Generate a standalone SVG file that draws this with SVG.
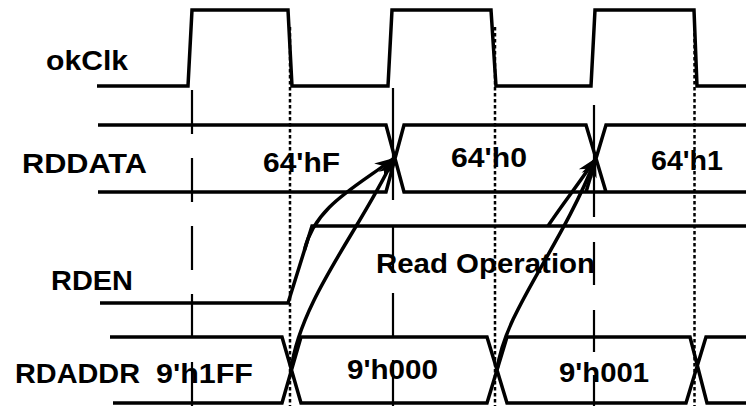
<svg xmlns="http://www.w3.org/2000/svg" width="746" height="406" viewBox="0 0 746 406">
<style>
.w{fill:none;stroke:#000;stroke-width:3.5;stroke-linejoin:miter}
.g{fill:none;stroke:#000;stroke-width:2.2}
.d{fill:none;stroke:#000;stroke-width:2.5;stroke-dasharray:3.5 2.5}
.c{fill:none;stroke:#000;stroke-width:3.5}
text{font-family:"Liberation Sans",Arial,sans-serif;font-weight:bold;font-size:28px;fill:#000}
</style>
<defs>
<marker id="ah" viewBox="-20 -9 21 18" refX="0" refY="0" markerWidth="21" markerHeight="18" markerUnits="userSpaceOnUse" orient="auto">
<path d="M0,0 L-19,-8 L-13,0 L-19,8 Z" fill="#000"/>
</marker>
</defs>
<rect width="746" height="406" fill="#fff"/>
<g id="grid">
<path class="g" d="M192,90V134M192,158V202M192,226V270M192,294V338M192,362V406"/>
<path class="g" d="M393,88V200M393,227V270M393,293V337M393,360V406"/>
<path class="g" d="M594,105V217M594,242V285M594,310V352M594,375V406"/>
<path class="d" d="M290,27V406M495,27V406M694.5,27V406"/>
</g>
<g id="okClk">
<path class="w" d="M97,86H188L192,10H288L292,86H388L392,10H491L496,86H591L595,10H694L697,86H746"/>
<text x="46" y="70" textLength="82" lengthAdjust="spacingAndGlyphs">okClk</text>
</g>
<g id="RDDATA">
<path class="w" d="M98,125H386L404,192H746M98,192H386L404,125H586L606,192M404,192H586L606,125H746"/>
<text x="22" y="173" textLength="125" lengthAdjust="spacingAndGlyphs">RDDATA</text>
<text x="263" y="172" textLength="77" lengthAdjust="spacingAndGlyphs">64'hF</text>
<text x="451" y="167" textLength="76" lengthAdjust="spacingAndGlyphs">64'h0</text>
<text x="651" y="170" textLength="72" lengthAdjust="spacingAndGlyphs">64'h1</text>
</g>
<g id="RDEN">
<path class="w" d="M100,303H288L312,226H746"/>
<text x="51" y="290" textLength="82" lengthAdjust="spacingAndGlyphs">RDEN</text>
<text x="376" y="273" textLength="219" lengthAdjust="spacingAndGlyphs">Read Operation</text>
</g>
<g id="RDADDR">
<path class="w" d="M110,337H282L301,403H487L507,337H690L707,403H746M113,403H282L301,337H487L507,403H686L706,337H746"/>
<text x="15" y="383" textLength="125" lengthAdjust="spacingAndGlyphs">RDADDR</text>
<text x="156" y="383" textLength="97" lengthAdjust="spacingAndGlyphs">9'h1FF</text>
<text x="347" y="379" textLength="91" lengthAdjust="spacingAndGlyphs">9'h000</text>
<text x="559" y="382" textLength="90" lengthAdjust="spacingAndGlyphs">9'h001</text>
</g>
<g id="connectors">
<path class="c" marker-end="url(#ah)" d="M304.5,250C315,205 360,185 394,158"/>
<path class="c" marker-end="url(#ah)" d="M291,370C300,300 360,230 394,158"/>
<path class="c" marker-end="url(#ah)" d="M497,370C505,310 560,250 596,158"/>
<path class="c" marker-end="url(#ah)" d="M548,226C562,205 580,182 596,158"/>
</g>
</svg>
